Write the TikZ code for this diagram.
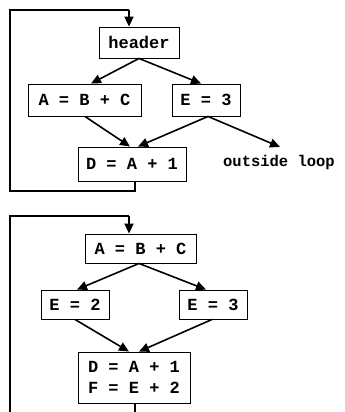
\documentclass[tikz,border=0pt]{standalone}
\usepackage{fontspec}
\setmonofont{Liberation Mono}
\usetikzlibrary{arrows.meta}
\begin{document}
\begin{tikzpicture}[x=1pt,y=-1pt,
  blk/.style={draw,line width=0.9pt,inner sep=0pt,anchor=center,
    font=\ttfamily\bfseries\fontsize{17}{21}\selectfont,align=center},
  arr/.style={line width=1.6pt,-{Triangle[length=10pt,width=9pt]}},
  loopline/.style={line width=2.2pt},
  lbl/.style={font=\ttfamily\bfseries\fontsize{15.5}{18}\selectfont,inner sep=0pt}]
\useasboundingbox (0,0) rectangle (345,412);
% ---------- top diagram ----------
\node[blk,minimum width=80pt,minimum height=31pt] (hdr) at (139,42.5) {header};
\node[blk,minimum width=113pt,minimum height=32pt] (abc) at (84.5,100) {A = B + C};
\node[blk,minimum width=68pt,minimum height=32pt] (e3) at (206,100) {E = 3};
\node[blk,minimum width=108pt,minimum height=34pt] (da) at (132,164) {D = A + 1};
\node[lbl] (out) at (279,162) {outside loop};
\coordinate (outtip) at (280,147);
\draw[arr] (hdr.south) -- ([xshift=6.5pt]abc.north);
\draw[arr] (hdr.south) -- ([xshift=-5pt]e3.north);
\draw[arr] ([xshift=0.5pt]abc.south) -- ([xshift=-2pt]da.north);
\draw[arr] ([xshift=2pt]e3.south) -- ([xshift=6pt]da.north);
\draw[arr] ([xshift=2pt]e3.south) -- (outtip);
\coordinate (l1a) at (135,191);
\coordinate (l1b) at (10,191);
\coordinate (l1c) at (10,10);
\coordinate (l1d) at (129,10);
\draw[loopline] ([xshift=3pt]da.south) -- (l1a) -- (l1b) -- (l1c) -- (l1d);
\draw[arr,line width=2pt] (l1d) -- (hdr.north -| l1d);
% ---------- bottom diagram ----------
\node[blk,minimum width=111pt,minimum height=29pt] (a2) at (140.5,248.5) {A = B + C};
\node[blk,minimum width=68pt,minimum height=29pt] (e2) at (75,304.5) {E = 2};
\node[blk,minimum width=68pt,minimum height=29pt] (e3b) at (213,304.5) {E = 3};
\node[blk,minimum width=112pt,minimum height=51pt] (df) at (134,377.5) {D = A + 1\\F = E + 2};
\draw[arr] ([xshift=-1.5pt]a2.south) -- ([xshift=2pt]e2.north);
\draw[arr] ([xshift=-1.5pt]a2.south) -- ([xshift=-7pt]e3b.north);
\draw[arr] (e2.south) -- ([xshift=-5pt]df.north);
\draw[arr] ([xshift=-1pt]e3b.south) -- ([xshift=5pt]df.north);
\coordinate (l2a) at (135,412);
\coordinate (l2b) at (10,412);
\coordinate (l2c) at (10,216);
\coordinate (l2d) at (129,216);
\draw[loopline] ([xshift=1pt]df.south) -- (l2a);
\draw[loopline] (l2b) -- (l2c) -- (l2d);
\draw[arr,line width=2pt] (l2d) -- (a2.north -| l2d);
\end{tikzpicture}
\end{document}
